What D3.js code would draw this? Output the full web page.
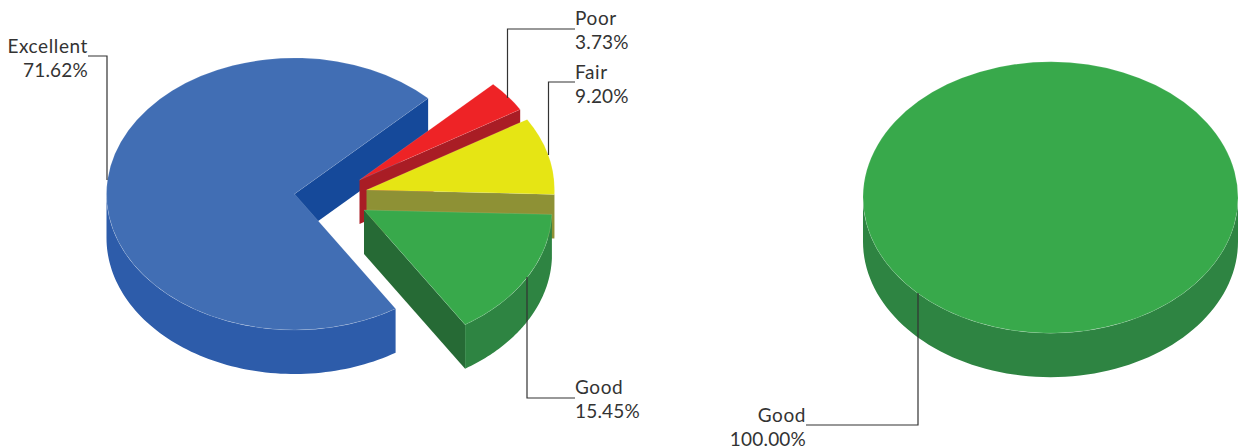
<!DOCTYPE html>
<html>
<head>
<meta charset="utf-8">
<script src="https://cdn.jsdelivr.net/npm/d3@7"></script>
<style>
  html, body { margin: 0; padding: 0; background: #fff; }
  text { font-family: Lato, "Open Sans", sans-serif; font-size: 19px; fill: #333; letter-spacing: 0.6px; }
  text.value { letter-spacing: 0.2px; }
</style>
</head>
<body>
<div id="chart"></div>
<script>
// left pie
var categories = ['Poor', 'Fair', 'Good', 'Excellent'];
var values = [3.73, 9.20, 15.45, 71.62];
var top_colors = ['#ee2326', '#e6e514', '#38a94b', '#416eb4'];
var wall_colors = ['#a11c22', '#a69e3a', '#2e8442', '#2d5caa'];
var face_colors = ['#a91d25', '#8e9135', '#266a35', '#15499a'];

// right pie
var categories2 = ['Good'];
var values2 = [100];
var top_colors2 = ['#38a94b'];
var wall_colors2 = ['#2e8442'];
var face_colors2 = ['#266a35'];

var w = 1241, h = 448;
var depth = 44;
var squash = 136 / 188;
var start = 45.3 * Math.PI / 180;

// where each slice's apex ends up after exploding
var apex_left = [[359.5, 180], [366.5, 190], [364, 210], [294.5, 194]];
var apex_right = [[1050.5, 197.5]];

// label anchors: text x, text y, elbow x, end y
var labels_left = [
  {x: 575, y: 25, anchor: 'start', line_y: 29, elbow: 507.5, end: 98},
  {x: 575, y: 79, anchor: 'start', line_y: 82, elbow: 548.5, end: 155},
  {x: 575, y: 393.5, anchor: 'start', line_y: 398, elbow: 527, end: 277},
  {x: 88, y: 52.5, anchor: 'end', line_y: 56, elbow: 107, end: 180}
];
var labels_right = [
  {x: 806, y: 421.5, anchor: 'end', line_y: 425, elbow: 918, end: 293}
];

var svg = d3.select('#chart')
            .append('svg')
            .attr('width', w)
            .attr('height', h)
            .style('display', 'block');

var pie = d3.pie().sort(null)
            .startAngle(start)
            .endAngle(start + 2 * Math.PI);

function draw(cats, vals, tops, walls, faces, apexes, labels, rx) {
  var slices = pie(vals);
  var arc = d3.arc().innerRadius(0).outerRadius(rx);
  var yScale = d3.scaleLinear().domain([0, rx]).range([0, rx * squash]);

  function px(a, t) { return a[0] + rx * Math.sin(t); }
  function py(a, t) { return a[1] - yScale(rx * Math.cos(t)); }

  // painter's order, the big back slice goes first
  var order = slices.length == 4 ? [3, 0, 1, 2] : [0];

  order.forEach(function(i) {
    var s = slices[i], a = apexes[i];
    var g = svg.append('g').attr('class', 'slice ' + cats[i]);

    // straight cut face along the end edge of the slice
    if (slices.length > 1) {
      var ex = px(a, s.endAngle), ey = py(a, s.endAngle);
      g.append('path')
       .attr('d', d3.line()([[a[0], a[1]], [ex, ey], [ex, ey + depth], [a[0], a[1] + depth]]) + 'Z')
       .attr('fill', faces[i]);
    }

    // outer wall, only the part which faces us (90deg to 270deg)
    var segs = [[90, 270], [450, 630]].map(function(r) {
      return [Math.max(s.startAngle, r[0] * Math.PI / 180), Math.min(s.endAngle, r[1] * Math.PI / 180)];
    }).filter(function(r) { return r[1] > r[0]; });

    segs.forEach(function(r) {
      var ts = d3.range(0, 81).map(function(k) { return r[0] + (r[1] - r[0]) * k / 80; });
      var upper = ts.map(function(t) { return [px(a, t), py(a, t)]; });
      var lower = ts.slice().reverse().map(function(t) { return [px(a, t), py(a, t) + depth]; });
      g.append('path')
       .attr('d', d3.line()(upper.concat(lower)) + 'Z')
       .attr('fill', walls[i]);
    });

    // top surface
    g.append('path')
     .attr('transform', 'translate(' + a[0] + ',' + a[1] + ') scale(1,' + squash + ')')
     .attr('d', arc(s))
     .attr('fill', tops[i])
     .attr('stroke', 'rgba(255,255,255,0.2)')
     .attr('stroke-width', 0.6)
     .attr('vector-effect', 'non-scaling-stroke');
  });

  // leader lines and labels on top of everything
  labels.forEach(function(l, i) {
    svg.append('path')
       .attr('d', d3.line()([[l.x, l.line_y], [l.elbow, l.line_y], [l.elbow, l.end]]))
       .attr('fill', 'none')
       .attr('stroke', '#333')
       .attr('stroke-width', 1.2);
    svg.append('text').attr('x', l.x).attr('y', l.y).attr('text-anchor', l.anchor).text(cats[i]);
    svg.append('text').attr('class', 'value')
       .attr('x', l.x).attr('y', l.y + 24).attr('text-anchor', l.anchor)
       .text(vals[i].toFixed(2) + '%');
  });
}

draw(categories, values, top_colors, wall_colors, face_colors, apex_left, labels_left, 188);
draw(categories2, values2, top_colors2, wall_colors2, face_colors2, apex_right, labels_right, 187.5);
</script>
</body>
</html>
